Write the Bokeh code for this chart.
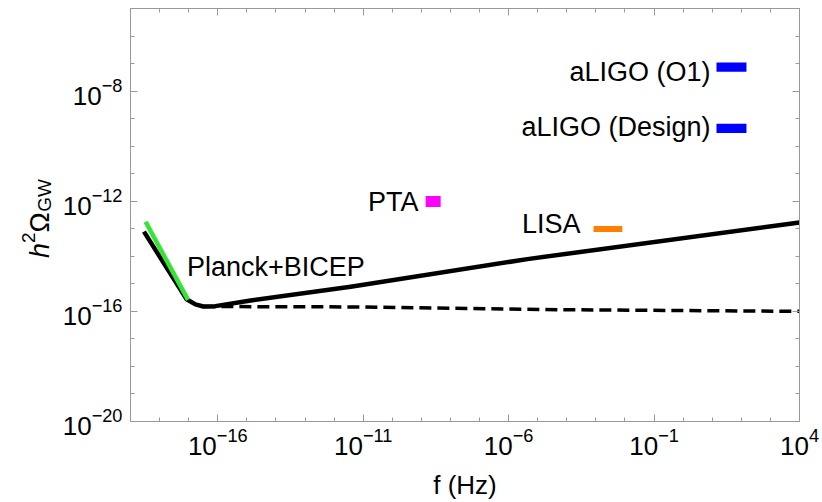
import numpy as np
from bokeh.plotting import figure
from bokeh.layouts import row
from bokeh.models import FixedTicker, LogAxis, ColumnDataSource, CustomJSTickFormatter
from bokeh.embed import file_html
from bokeh.resources import INLINE
from bokeh.core.properties import value

# ---- values (f in Hz, h^2 Omega_GW) ----
solid_f = [2.9e-19, 8.5e-18, 1.7e-17, 3.2e-17, 8.3e-17, 1.35e-15, 3.7e-12, 4.4e-6, 1e4]
solid_omega = [7.9e-14, 2.75e-16, 1.8e-16, 1.5e-16, 1.55e-16, 2.5e-16, 7.8e-16, 7.9e-15, 1.7e-13]
dashed_f = [3.2e-17, 3.7e-12, 6.0e-5, 1e4]
dashed_omega = [1.5e-16, 1.45e-16, 1.15e-16, 1.0e-16]
planck_f = [3.3e-19, 9.5e-18]
planck_omega = [1.8e-13, 2.6e-16]

det_names = ["aLIGO (O1)", "aLIGO (Design)", "PTA", "LISA"]
det_f_lo = [1.4e1, 1.4e1, 1.4e-9, 8.3e-4]
det_f_hi = [1.5e2, 1.5e2, 4.6e-9, 8.1e-3]
det_omega_lo = [5.0e-8, 3.0e-10, 6.2e-13, 7.6e-14]
det_omega_hi = [1.1e-7, 6.5e-10, 1.55e-12, 1.26e-13]
det_colors = ["#0000ff", "#0000ff", "#ff00ff", "#ff8000"]

planck_label = "Planck+BICEP"
x_label = "f (Hz)"
y_label_parts = ["h", "2", "Ω", "GW"]
x_tick_exp = [-16, -11, -6, -1, 4]
y_tick_exp = [-20, -16, -12, -8]
x_minor_exp = list(range(-19, 5))
y_minor_exp = list(range(-20, -4))

FONT = "Liberation Sans"
GRAY = "#999999"
W_AUX = 58
H = 502
B_TOP, B_BOTTOM = 8, 80

p = figure(width=822 - W_AUX, height=H, x_axis_type="log", y_axis_type="log",
           x_range=(1e-19, 1e4), y_range=(1e-20, 1e-5),
           output_backend="svg", toolbar_location=None,
           min_border_left=130 - W_AUX, min_border_right=23, min_border_top=B_TOP, min_border_bottom=B_BOTTOM)
p.grid.visible = False
p.outline_line_color = GRAY
p.background_fill_color = "white"
p.border_fill_color = "white"

bottom = p.below[0]
left = p.left[0]
xt = FixedTicker(ticks=[10.0 ** e for e in x_tick_exp], minor_ticks=[10.0 ** e for e in x_minor_exp])
yt = FixedTicker(ticks=[10.0 ** e for e in y_tick_exp], minor_ticks=[10.0 ** e for e in y_minor_exp])
bottom.ticker = xt
left.ticker = yt

blank = CustomJSTickFormatter(code="return ''")
top = LogAxis(ticker=FixedTicker(ticks=xt.ticks, minor_ticks=xt.minor_ticks), formatter=blank)
right = LogAxis(ticker=FixedTicker(ticks=yt.ticks, minor_ticks=yt.minor_ticks), formatter=blank)
p.add_layout(top, "above")
p.add_layout(right, "right")

for ax in [bottom, left, top, right]:
    ax.major_tick_in = 7
    ax.major_tick_out = 0
    ax.minor_tick_in = 4
    ax.minor_tick_out = 0
    ax.axis_line_color = GRAY
    ax.major_tick_line_color = GRAY
    ax.minor_tick_line_color = GRAY
    ax.major_label_text_font = FONT
    ax.major_label_text_color = "black"
    ax.major_label_text_font_size = "26px"
for ax in [top, right]:
    ax.major_label_standoff = 0
bottom.major_label_standoff = 6
left.major_label_standoff = 8
bottom.axis_label = x_label
bottom.axis_label_text_font = FONT
bottom.axis_label_text_font_size = "26px"
bottom.axis_label_text_font_style = "normal"
bottom.axis_label_text_color = "black"
bottom.axis_label_text_line_height = 1.0
bottom.axis_label_standoff = 12

# curves
p.line(dashed_f, dashed_omega, line_color="black", line_width=3.5, line_dash="12 6")
p.line(solid_f, solid_omega, line_color="black", line_width=4.5, line_join="round")
p.line(planck_f, planck_omega, line_color="#33e633", line_width=4.5)

# detector boxes
p.quad(left=det_f_lo, right=det_f_hi, bottom=det_omega_lo, top=det_omega_hi,
       fill_color=det_colors, line_color=None)

# labels attached to boxes / curve
lab = ColumnDataSource(dict(
    x=det_f_lo + [planck_f[1]],
    y=list(np.sqrt(np.array(det_omega_lo) * np.array(det_omega_hi))) + [planck_omega[1]],
    text=det_names + [planck_label],
    align=["right", "right", "right", "right", "left"],
    xo=[-6, -6, -7, -13, -1],
    yo=[5, -1.5, 1, -4.7, -33],
))
p.text(x="x", y="y", text="text", source=lab, text_align="align", text_baseline="alphabetic",
       x_offset="xo", y_offset="yo", text_font=value(FONT), text_font_size="27px", text_color="black")

# y-axis title strip (h^2 Omega_GW); strip coordinates are pixels from the canvas bottom-left
ax_fig = figure(width=W_AUX, height=H, x_range=(0, W_AUX), y_range=(B_BOTTOM, H - B_TOP),
                output_backend="svg", toolbar_location=None,
                min_border_left=0, min_border_right=0, min_border_top=B_TOP, min_border_bottom=B_BOTTOM)
ax_fig.axis.visible = False
ax_fig.grid.visible = False
ax_fig.outline_line_color = None
ax_fig.border_fill_color = "white"
base_x = 39
start_y = H - 258
sizes = [27, 19, 27, 19]
shift = [0, -11, 0, 5]
styles = ["italic", "normal", "normal", "normal"]
adv = [0.556, 0.556, 0.768, 1.722]
ys = []
cur = start_y
for a, s in zip(adv, sizes):
    ys.append(cur)
    cur += a * s
ysrc = ColumnDataSource(dict(x=[base_x + d for d in shift], y=ys, text=y_label_parts,
                             size=[f"{s}px" for s in sizes], style=styles))
ax_fig.text(x="x", y="y", text="text", source=ysrc, angle=np.pi / 2, text_align="left",
            text_baseline="alphabetic", text_font=value(FONT), text_font_size="size",
            text_font_style="style", text_color="black")

layout = row(ax_fig, p)
open("out.html", "w").write(file_html(layout, INLINE))
